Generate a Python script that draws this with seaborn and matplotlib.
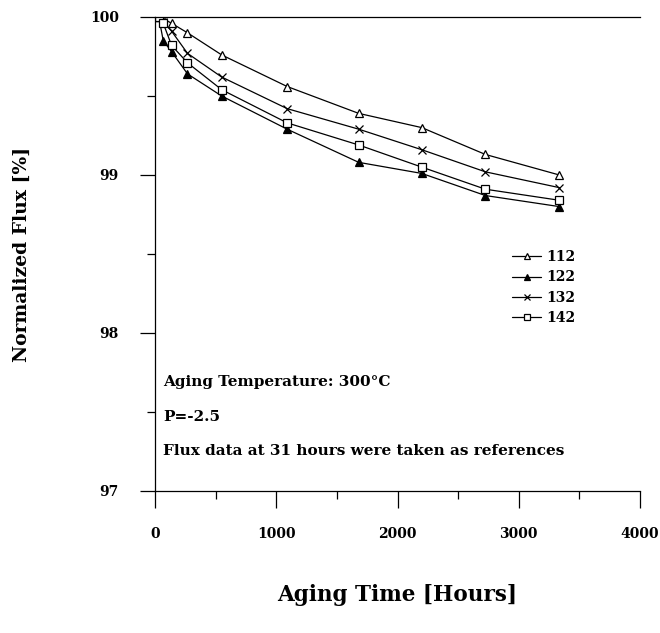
import matplotlib
matplotlib.use("Agg")
import matplotlib.pyplot as plt
import seaborn as sns
from matplotlib.ticker import MultipleLocator

# Aging time (hours) and normalized flux (%) for each sample
hours = [31, 68, 137, 268, 550, 1090, 1680, 2200, 2725, 3335]
flux_112 = [100.0, 99.99, 99.96, 99.90, 99.76, 99.56, 99.39, 99.30, 99.13, 99.00]
flux_122 = [100.0, 99.85, 99.78, 99.64, 99.50, 99.29, 99.08, 99.01, 98.87, 98.80]
flux_132 = [100.0, 99.97, 99.91, 99.77, 99.62, 99.42, 99.29, 99.16, 99.02, 98.92]
flux_142 = [100.0, 99.96, 99.82, 99.71, 99.54, 99.33, 99.19, 99.05, 98.91, 98.84]
labels = ["112", "122", "132", "142"]

x_ticks = [0, 1000, 2000, 3000, 4000]
y_ticks = [97, 98, 99, 100]

sns.set_style("ticks")
plt.rcParams["font.family"] = ["DejaVu Serif"]
plt.rcParams["font.weight"] = "bold"
for key in ("text.color", "axes.labelcolor", "xtick.color", "ytick.color",
            "axes.edgecolor"):
    plt.rcParams[key] = "black"

fig = plt.figure(figsize=(6.6, 6.33), dpi=100)
ax = fig.add_axes([155 / 660, 1 - 491 / 633, 485 / 660, 474 / 633])

styles = [
    dict(marker="^", markerfacecolor="white"),
    dict(marker="^", markerfacecolor="black"),
    dict(marker="x", markerfacecolor="black"),
    dict(marker="s", markerfacecolor="white"),
]
series = [flux_112, flux_122, flux_132, flux_142]
for lab, vals, st in zip(labels, series, styles):
    sns.lineplot(x=hours, y=vals, ax=ax, color="black", linewidth=0.9,
                 markersize=6, markeredgecolor="black", markeredgewidth=0.9,
                 label=lab, **st)

ax.set_xlim(0, 4000)
ax.set_ylim(97, 100)
ax.set_xticks(x_ticks)
ax.set_yticks(y_ticks)
ax.xaxis.set_minor_locator(MultipleLocator(500))
ax.yaxis.set_minor_locator(MultipleLocator(0.5))
ax.tick_params(axis="x", which="major", direction="out", length=12, width=0.9,
               pad=14, labelsize=10)
ax.tick_params(axis="x", which="minor", direction="out", length=6, width=0.9)
ax.tick_params(axis="y", which="major", direction="out", length=11, width=0.9,
               pad=15, labelsize=10)
ax.tick_params(axis="y", which="minor", direction="out", length=6, width=0.9)
for lbl in ax.get_xticklabels() + ax.get_yticklabels():
    lbl.set_fontweight("bold")

ax.spines["right"].set_visible(False)
for s in ("top", "left", "bottom"):
    ax.spines[s].set_linewidth(0.9)

ax.set_xlabel("Aging Time [Hours]", fontsize=15.5, fontweight="bold")
ax.set_ylabel("Normalized Flux [%]", fontsize=13.5, fontweight="bold")
ax.xaxis.label.set_verticalalignment("center")
ax.yaxis.label.set_verticalalignment("center")
ax.xaxis.set_label_coords(0.5, (491 - 595) / 474)
ax.yaxis.set_label_coords((22 - 155) / 485, 0.5)

note_kw = dict(fontsize=11, fontweight="bold", va="center", ha="left")
ax.text(66, 97.69, "Aging Temperature: 300°C", **note_kw)
ax.text(66, 97.47, "P=-2.5", **note_kw)
ax.text(66, 97.25, "Flux data at 31 hours were taken as references", **note_kw)

leg = ax.legend(loc="upper left", bbox_to_anchor=(0.736, 0.508), frameon=False,
                handlelength=2.1, handletextpad=0.4, labelspacing=0.45,
                borderpad=0, borderaxespad=0, markerscale=0.75,
                prop=dict(weight="bold", size=10))

fig.savefig("out.png", dpi=100)
